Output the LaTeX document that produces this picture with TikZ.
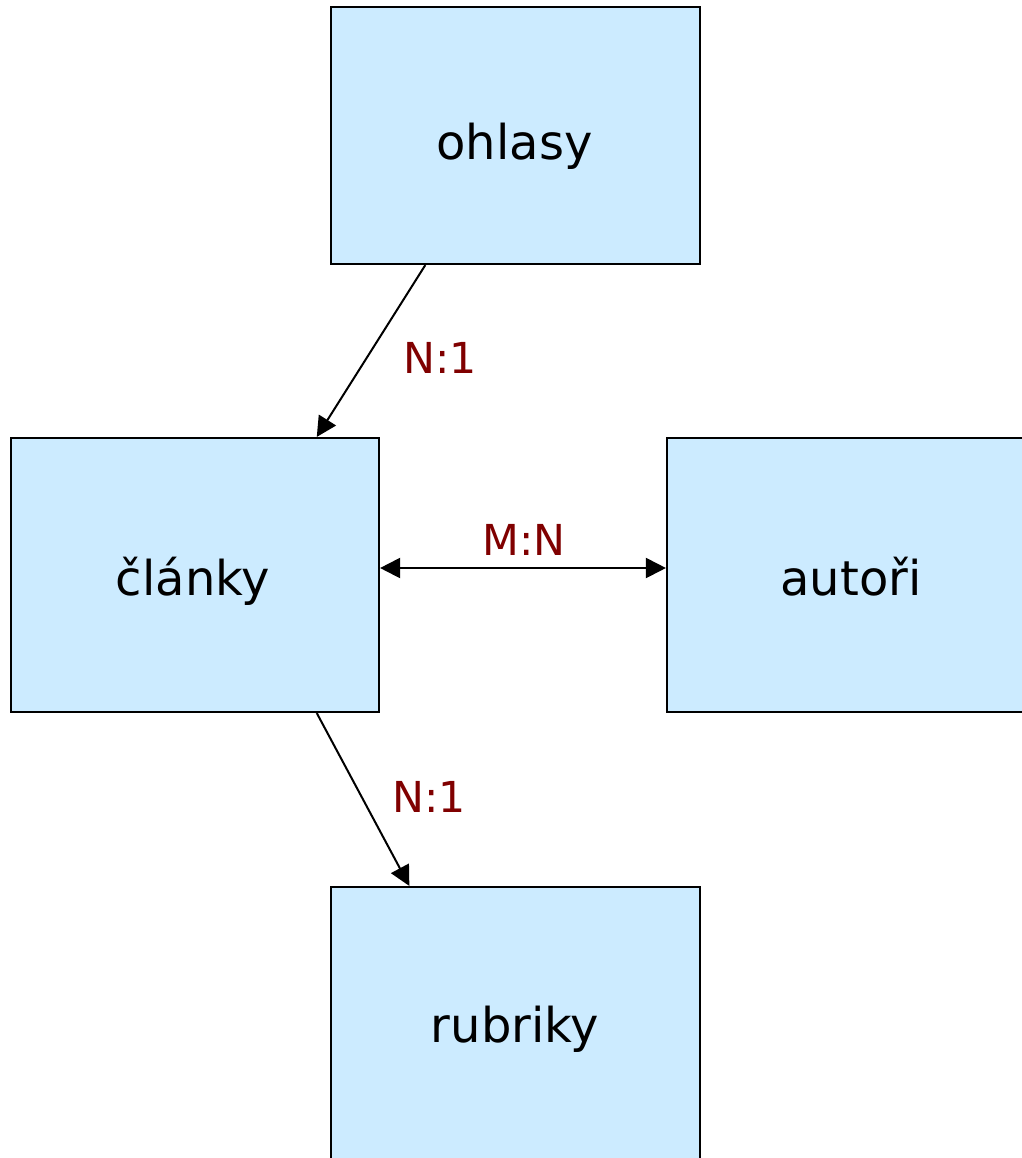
\documentclass[tikz,border=0pt]{standalone}
\usepackage{fontspec}
\setmainfont{DejaVu Sans}
\usetikzlibrary{arrows.meta,calc}
\definecolor{boxfill}{HTML}{CCEBFF}
\definecolor{cardred}{HTML}{800000}
\begin{document}
\begin{tikzpicture}[x=0.75pt,y=-0.75pt,
  entity/.style={draw=black,line width=1.6pt,fill=boxfill,inner sep=0pt},
  entitytext/.style={anchor=base,inner sep=0pt,font=\fontsize{36}{42}\selectfont},
  tip/.style={Triangle[length=15pt,width=15pt]},
  link/.style={line width=1.5pt,-{Triangle[length=15pt,width=15pt]}},
  card/.style={anchor=base,text=cardred,font=\fontsize{32}{38}\selectfont,inner sep=0pt}]
\useasboundingbox (0,0) rectangle (1022,1158);
\clip (0,0) rectangle (1022,1158);
\fill[white] (0,0) rectangle (1022,1158);
% entity boxes
\node[entity,minimum width=369*0.75pt,minimum height=257*0.75pt] (ohlasy) at (515.5,135.5) {};
\node[entity,minimum width=368*0.75pt,minimum height=274*0.75pt] (clanky) at (195,575) {};
\node[entity,minimum width=363*0.75pt,minimum height=274*0.75pt] (autori) at (848.5,575) {};
\node[entity,minimum width=369*0.75pt,minimum height=283*0.75pt] (rubriky) at (515.5,1028.5) {};
% entity names
\node[entitytext] (ohlasyname) at (514.5,159) {ohlasy};
\node[entitytext] (clankyname) at (193,595) {články};
\node[entitytext] (autoriname) at (851,595) {autoři};
\node[entitytext] (rubrikyname) at (515,1042) {rubriky};
% connector end points on the box edges
\coordinate (o1) at ($(ohlasy.south west)!0.257!(ohlasy.south east)$);
\coordinate (c1) at ($(clanky.north west)!0.829!(clanky.north east)$);
\coordinate (c2) at ($(clanky.south west)!0.829!(clanky.south east)$);
\coordinate (r1) at ($(rubriky.north west)!0.214!(rubriky.north east)$);
\coordinate (cE) at ($(clanky.east)+(0,-7)$);
\coordinate (aW) at ($(autori.west)+(0,-7)$);
% relationships
\draw[link] (o1) -- (c1);
\draw[link,{Triangle[length=15pt,width=15pt]}-{Triangle[length=15pt,width=15pt]}] (cE) -- (aW);
\draw[link] (c2) -- (r1);
% cardinalities
\node[card] (n1) at (440,373) {N:1};
\node[card] (mn) at (524,555) {M:N};
\node[card] (n2) at (429,812) {N:1};
\end{tikzpicture}
\end{document}
